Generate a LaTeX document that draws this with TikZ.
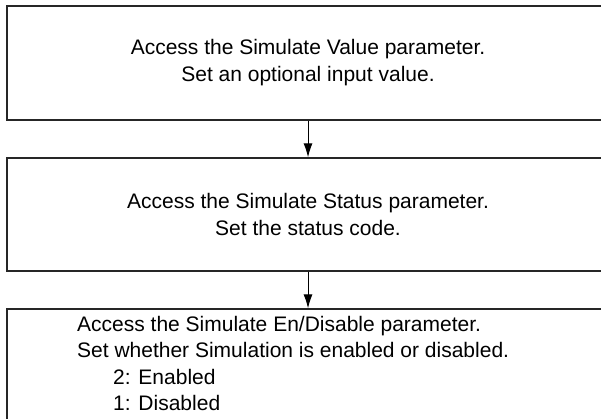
\documentclass[tikz,border=0pt]{standalone}
\usepackage{fontspec}
\setmainfont{Liberation Sans}
\usetikzlibrary{arrows.meta}
\begin{document}
\begin{tikzpicture}[x=1pt,y=1pt,
  stepbox/.style={draw=black!85,line width=1.3pt,rectangle,minimum width=602pt,inner sep=0pt,font=\fontsize{21}{27}\selectfont,align=center},
  flow/.style={draw=black,line width=1pt,-{Latex[length=14pt,width=9pt]}}]
\useasboundingbox (0,0) rectangle (601,419);
\node[stepbox,minimum height=114pt] (b1) at (308,356) {Access the Simulate Value parameter.\\Set an optional input value.};
\node[stepbox,minimum height=113pt] (b2) at (308,204.5) {Access the Simulate Status parameter.\\Set the status code.};
\node[stepbox,minimum height=120pt] (b3) at (308,50) {};
\node[anchor=north west,inner sep=0pt,align=left,font=\fontsize{21}{26.5}\selectfont] (t3) at (77,103)
  {Access the Simulate En/Disable parameter.\\Set whether Simulation is enabled or disabled.\\\hspace*{36pt}2: Enabled\\\hspace*{36pt}1: Disabled};
\draw[flow] (b1.south) -- (b2.north);
\draw[flow] (b2.south) -- (b3.north);
\end{tikzpicture}
\end{document}
